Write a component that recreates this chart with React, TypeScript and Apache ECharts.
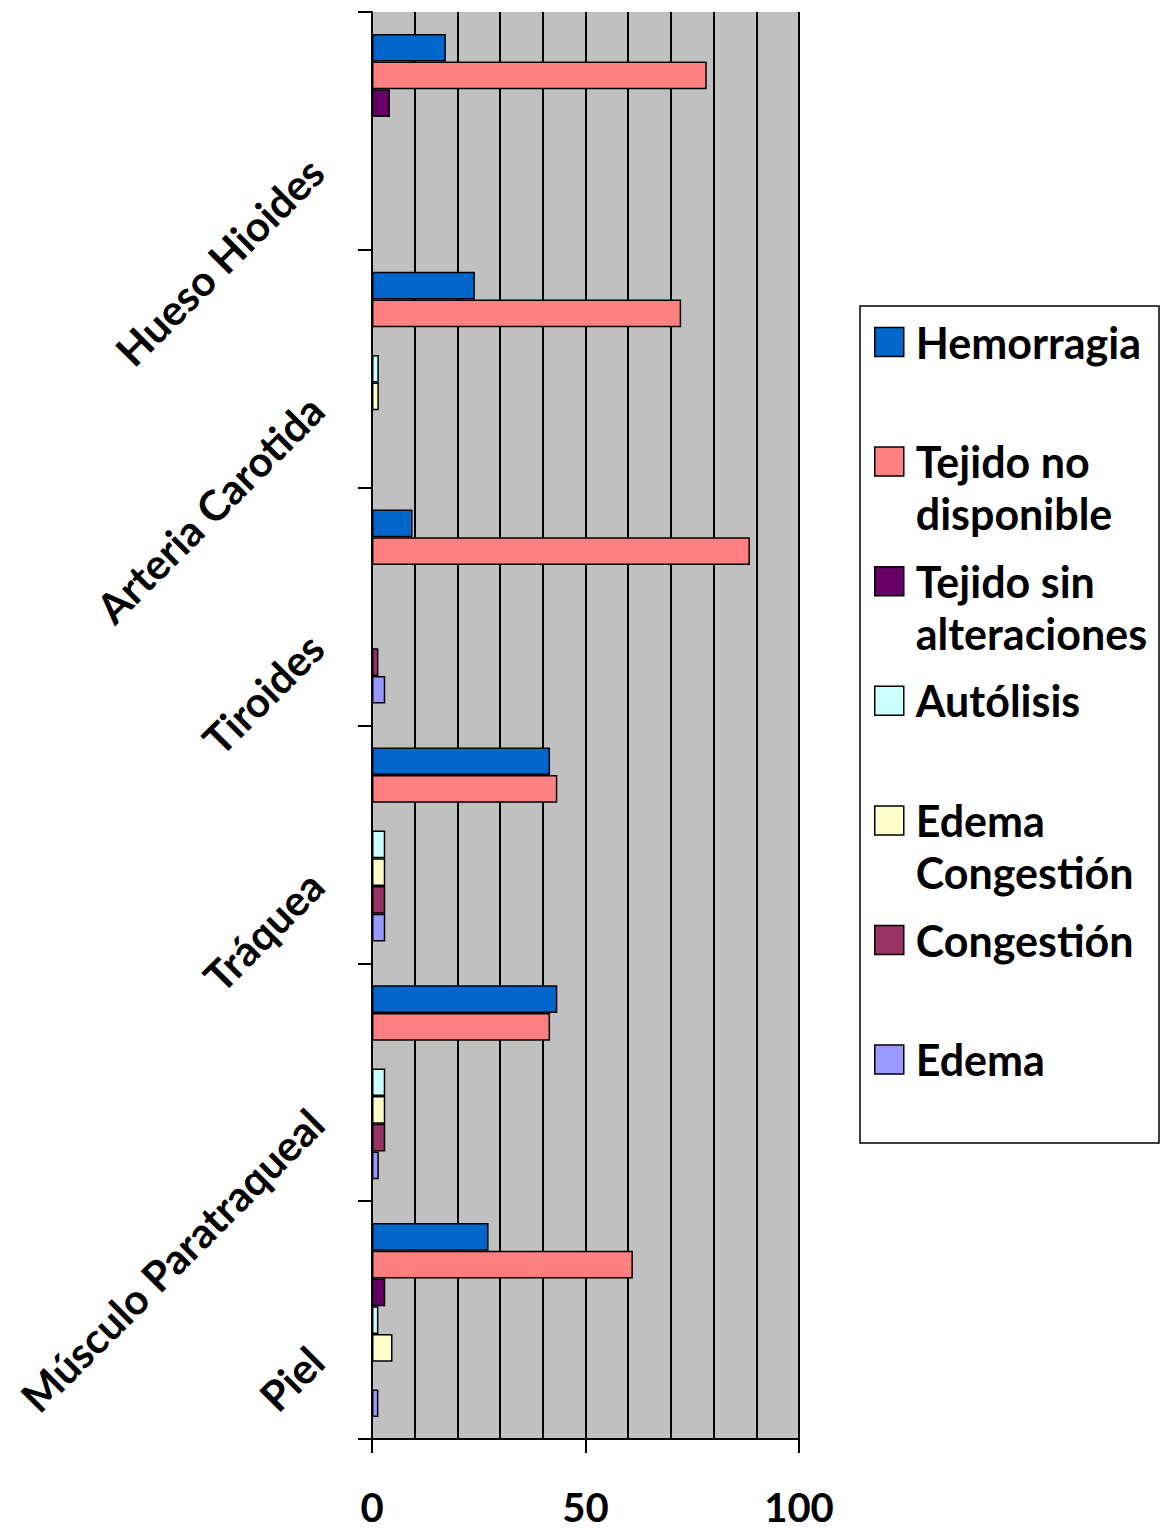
import React, { useEffect, useRef } from "react";
import * as echarts from "echarts";

// Organs examined (top to bottom) and the finding percentages for each one
const categories = [
  "Hueso Hioides",
  "Arteria Carotida",
  "Tiroides",
  "Tráquea",
  "Músculo Paratraqueal",
  "Piel",
];

const seriesNames = [
  "Hemorragia",
  "Tejido no disponible",
  "Tejido sin alteraciones",
  "Autólisis",
  "Edema Congestión",
  "Congestión",
  "Edema",
];

// Legend text, wrapped the way it is printed in the key box
const legendLines = [
  ["Hemorragia"],
  ["Tejido no", "disponible"],
  ["Tejido sin", "alteraciones"],
  ["Autólisis"],
  ["Edema", "Congestión"],
  ["Congestión"],
  ["Edema"],
];

const colors = ["#0066CC", "#FF8080", "#660066", "#CCFFFF", "#FFFFCC", "#993366", "#9999FF"];

const hemorragia = [17.3, 24.1, 9.5, 41.7, 43.4, 27.3];
const tejidoNoDisponible = [78.4, 72.4, 88.5, 43.4, 41.7, 61.1];
const tejidoSinAlteraciones = [4.2, null, null, null, null, 3.1];
const autolisis = [null, 1.6, null, 3.1, 3.1, 1.5];
const edemaCongestion = [null, 1.6, null, 3.1, 3.1, 4.8];
const congestion = [null, null, 1.5, 3.1, 3.1, null];
const edema = [null, null, 3.1, 3.1, 1.6, 1.5];

const seriesValues = [
  hemorragia,
  tejidoNoDisponible,
  tejidoSinAlteraciones,
  autolisis,
  edemaCongestion,
  congestion,
  edema,
];

const xMin = 0;
const xMax = 100;
const xLabelStep = 50;
const xGridStep = 10;

const FONT = "Lato, 'Open Sans', sans-serif";
const LEGEND_LINE = 52;
const LEGEND_STEP = 119.6;

// Every key entry is laid out as three text rows with the first printed row in
// the middle one, so the colour square lines up with the first row of wrapped text.
function legendText(name: string): string {
  const lines = legendLines[seriesNames.indexOf(name)];
  const rows = [" ", lines[0], lines.length > 1 ? lines[1] : " "];
  return rows.map((r) => "{g|}" + r).join("\n");
}

export default function App() {
  const ref = useRef<HTMLDivElement>(null);

  useEffect(() => {
    if (!ref.current) return;
    const chart = echarts.init(ref.current, undefined, { renderer: "svg" });

    const option: any = {
      animation: false,
      backgroundColor: "#ffffff",
      textStyle: { fontFamily: FONT },
      grid: {
        left: 372,
        top: 12,
        width: 427,
        height: 1427,
        show: true,
        backgroundColor: "#C0C0C0",
        borderWidth: 0,
        containLabel: false,
      },
      xAxis: {
        type: "value",
        min: xMin,
        max: xMax,
        interval: xLabelStep,
        axisLine: { show: true, lineStyle: { color: "#000", width: 2 } },
        axisTick: { show: true, length: 14, lineStyle: { color: "#000", width: 2 } },
        minorTick: { show: false, splitNumber: xLabelStep / xGridStep },
        splitLine: { show: true, lineStyle: { color: "#000", width: 2 } },
        minorSplitLine: { show: true, lineStyle: { color: "#000", width: 2 } },
        axisLabel: {
          margin: 50,
          fontSize: 40,
          lineHeight: 36,
          fontWeight: "bold",
          color: "#000",
          fontFamily: FONT,
        },
      },
      yAxis: {
        type: "category",
        data: categories,
        inverse: true,
        axisLine: { show: true, lineStyle: { color: "#000", width: 2 } },
        axisTick: { show: true, length: 14, lineStyle: { color: "#000", width: 2 } },
        splitLine: { show: false },
        axisLabel: {
          rotate: 45,
          margin: 5,
          align: "right",
          verticalAlign: "bottom",
          lineHeight: 24,
          padding: [0, 60, 0, 0],
          fontSize: 42,
          fontWeight: "bold",
          color: "#000",
          fontFamily: FONT,
          interval: 0,
        },
      },
      legend: {
        orient: "vertical",
        left: 874,
        top: 342 - LEGEND_LINE * 1.5,
        padding: 0,
        itemWidth: 29,
        itemHeight: 29,
        itemGap: LEGEND_STEP - LEGEND_LINE * 3,
        icon: "rect",
        selectedMode: false,
        itemStyle: { borderColor: "#000", borderWidth: 1.5 },
        textStyle: {
          fontSize: 43,
          fontWeight: "bold",
          color: "#000",
          fontFamily: FONT,
          lineHeight: LEGEND_LINE,
          rich: {
            g: { width: 7, lineHeight: LEGEND_LINE },
          },
        },
        formatter: legendText,
        data: seriesNames,
      },
      graphic: [
        {
          type: "rect",
          shape: { x: 860, y: 306, width: 299, height: 837 },
          style: { fill: "none", stroke: "#000", lineWidth: 1.5 },
          silent: true,
        },
      ],
      series: seriesNames.map((name, i) => ({
        name,
        type: "bar",
        data: seriesValues[i],
        barGap: "0%",
        barCategoryGap: "18.4%",
        itemStyle: { color: colors[i], borderColor: "#000", borderWidth: 1.5 },
      })),
    };

    chart.setOption(option);
    return () => chart.dispose();
  }, []);

  return (
    <div
      ref={ref}
      style={{ position: "absolute", left: 0, top: 0, width: 1162, height: 1530 }}
    />
  );
}
